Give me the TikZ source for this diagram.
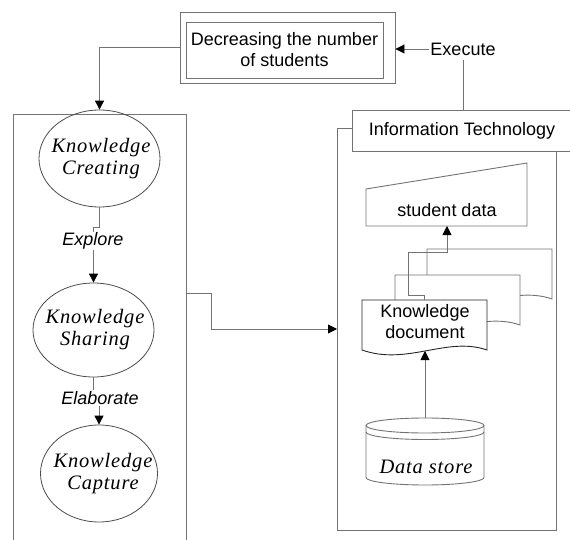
\documentclass[tikz,border=0pt]{standalone}
\usepackage{fontspec}
\setmainfont{Liberation Sans}
\newfontfamily\serifk[LetterSpace=4]{Liberation Serif}
\usetikzlibrary{arrows.meta,shapes.geometric}

\begin{document}
\begin{tikzpicture}[x=1pt,y=-1pt,
  ln/.style={draw=black!55, line width=0.9pt},
  arr/.style={ln, -{Triangle[length=9pt,width=9pt,color=black]}},
  sanstext/.style={font=\fontsize{18}{21}\selectfont, align=center, inner sep=1pt},
  sanslabel/.style={font=\fontsize{18}{21}\selectfont\itshape, fill=white, inner sep=1pt},
  serittext/.style={font=\fontsize{20.5}{22}\selectfont\serifk\itshape, align=center, inner sep=0pt},
  phase/.style={ellipse, draw=black!70, line width=0.8pt, inner sep=0pt},
  docsheet/.pic={
    \draw[line width=0.9pt, fill=white, draw=#1]
      (0,50) -- (0,0) -- (125,0) -- (125,50)
      .. controls (85,36) and (45,66) .. (0,50) -- cycle;
    \coordinate (-top) at (62.5,0);
    \coordinate (-bot) at (63,51);
  }]
\useasboundingbox (0,0) rectangle (570,540);

% goal box
\node[ln, minimum width=215pt, minimum height=71pt, inner sep=0pt] (topouter) at (287.5,47.5) {};
\node[ln, sanstext, minimum width=197pt, minimum height=56pt, inner sep=0pt] (goal) at (284.5,50)
  {Decreasing the number\\of students};

% information technology panel
\node[ln, minimum width=240pt, minimum height=41pt, inner sep=0pt] (itbox) at (472,130.5) {};
\node[sanstext] (it) at (462,131) {Information Technology};
\coordinate (rpa) at (352,128);
\coordinate (rpb) at (337,128);
\coordinate (rpc) at (337,530);
\coordinate (rpd) at (556,530);
\coordinate (rpe) at (556,151);
\draw[ln] (rpa) -- (rpb) -- (rpc) -- (rpd) -- (rpe);

% execute link
\node[sanstext, inner ysep=4.5pt] (exec) at (463,49) {Execute};
\draw[arr] (exec.west) -- (topouter.east |- exec.west);
\draw[ln] (exec.south) -- (exec.south |- itbox.north);

% knowledge process panel
\coordinate (lpa) at (13,541);
\coordinate (lpb) at (13,114);
\coordinate (lpc) at (186,114);
\coordinate (lpd) at (186,541);
\draw[ln] (lpa) -- (lpb) -- (lpc) -- (lpd);

\node[phase, minimum width=121pt, minimum height=97pt] (kc) at (99.5,158.5) {};
\node[serittext] (kct) at (101,158.5) {Knowledge\\Creating};
\node[phase, minimum width=121pt, minimum height=94pt] (ks) at (93.5,330) {};
\node[serittext] (kst) at (95,330) {Knowledge\\Sharing};
\node[phase, minimum width=117pt, minimum height=97pt] (kcap) at (99,473.5) {};
\node[serittext] (kcapt) at (103,473.5) {Knowledge\\Capture};

\draw[arr] (topouter.west) -| (kc.north);
\draw[arr] (kc.south) -- ++(0,20) -| (ks.north);
\node[sanslabel] (explore) at (93,241) {Explore};
\draw[arr] (ks.south) -- ++(0,21) -| (kcap.north);
\node[sanslabel] (elab) at (100,398) {Elaborate};

% link between the panels
\coordinate (lpout) at (186,293);
\coordinate (rpin) at (337,329);
\draw[arr] (lpout) -- ++(25,0) |- (rpin);

% student data (manual input)
\coordinate (sda) at (366,189);
\coordinate (sdb) at (527,163);
\coordinate (sdc) at (527,226);
\coordinate (sdd) at (366,226);
\draw[ln] (sda) -- (sdb) -- (sdc) -- (sdd) -- cycle;
\node[sanstext] (sd) at (447,210) {student data};
\coordinate (sdin) at (447,226);

% stacked documents
\pic (d3) at (427,249) {docsheet=black!55};
\pic (d2) at (395,275) {docsheet=black!55};
\pic (d1) at (362,300) {docsheet=black!85};
\node[sanstext] (kd) at (425,322) {Knowledge\\document};
\draw[arr] (d1-top) -- ++(0,-5) -| (408,252) -| (sdin);

% data store cylinder
\draw[ln] (425,425.5) ellipse [x radius=59, y radius=7.5];
\draw[ln] (366,432) arc [start angle=180, end angle=0, x radius=59, y radius=7.5];
\draw[ln] (366,425.5) -- (366,477.5)
  arc [start angle=180, end angle=0, x radius=59, y radius=7.5] -- (484,425.5);
\node[serittext] (ds) at (426,467) {Data store};
\coordinate (dstop) at (425,418);
\draw[arr] (dstop) -- (d1-bot);
\end{tikzpicture}
\end{document}
